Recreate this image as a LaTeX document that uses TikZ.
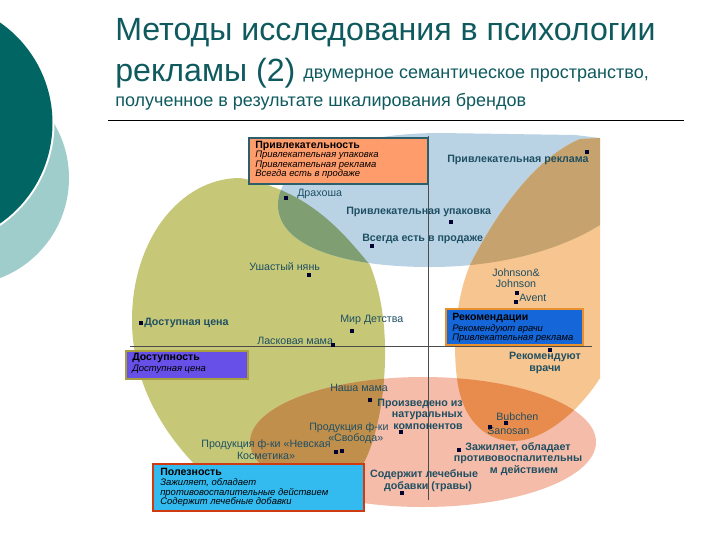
\documentclass[tikz,border=0pt]{standalone}
\usepackage{fontspec}
\setmainfont{Liberation Sans}
\definecolor{titlecol}{HTML}{0F5A5E}
\definecolor{labelcol}{HTML}{1E4F62}
\definecolor{ringdark}{HTML}{006563}
\definecolor{ringlight}{HTML}{9FCDCB}
\definecolor{areagreen}{HTML}{C6C878}
\definecolor{areablue}{HTML}{B9D3E5}
\definecolor{areaorange}{HTML}{F7C590}
\definecolor{areapink}{HTML}{F4BCA9}
\definecolor{mixgb}{HTML}{7F9E72}
\definecolor{mixbo}{HTML}{C6A36E}
\definecolor{mixgrnpnk}{HTML}{C08F4C}
\definecolor{mixorgpnk}{HTML}{E88C4E}
\definecolor{boxsalmon}{HTML}{FF9C6B}
\definecolor{boxsalmonline}{HTML}{2B5F6B}
\definecolor{boxviolet}{HTML}{6650E8}
\definecolor{boxvioletline}{HTML}{A8A040}
\definecolor{boxblue}{HTML}{1566D8}
\definecolor{boxblueline}{HTML}{E8902C}
\definecolor{boxcyan}{HTML}{33BBF0}
\definecolor{boxcyanline}{HTML}{D03A10}
\newcommand{\shapegreen}{(240,178) .. controls (180,178) and (132,240) .. (132,320) .. controls (132,380) and (160,430) .. (200,470) -- (360,470) .. controls (378,440) and (386,390) .. (385,345) .. controls (384,310) and (378,285) .. (370,265) .. controls (345,235) and (310,190) .. (240,178) -- cycle}
\newcommand{\shapeblue}{(278,205) .. controls (278,160) and (350,133) .. (440,133) -- (575,135) -- (600,138) -- (600,225) .. controls (560,250) and (500,267) .. (430,267) .. controls (340,267) and (278,245) .. (278,205) -- cycle}
\newcommand{\shapeorange}{(600,138) -- (580,139) .. controls (530,160) and (490,225) .. (470,265) .. controls (455,300) and (452,350) .. (458,385) .. controls (465,425) and (490,442) .. (515,441) .. controls (545,440) and (580,410) .. (600,378) -- cycle}
\newcommand{\shapepink}{(423,442) ellipse [x radius=173, y radius=65]}
\tikzset{
	titlebig/.style={anchor=west, inner sep=0pt, text=titlecol, font=\fontsize{24.1}{28}\selectfont},
	titlesmall/.style={anchor=west, inner sep=0pt, text=titlecol, font=\fontsize{13.5}{16}\selectfont},
	lbl/.style={text=labelcol, inner sep=0pt, font=\fontsize{8}{8.6}\selectfont, anchor=west},
	lblb/.style={lbl, font=\fontsize{8}{8.6}\selectfont\bfseries},
	dotmark/.style={fill=black!80!blue, inner sep=0pt, minimum size=3pt},
	boxhead/.style={text=black, inner sep=0pt, anchor=west, font=\fontsize{7.9}{9}\selectfont\bfseries},
	boxline/.style={text=black, inner sep=0pt, anchor=west, font=\fontsize{7.1}{8}\selectfont\itshape},
	legendbox/.style={line width=2pt}
}
\begin{document}
\begin{tikzpicture}[x=0.75pt, y=-0.75pt]
	\clip (0,0) rectangle (720,540);
	\fill[white] (0,0) rectangle (720,540);
	% circles on the left
	\fill[ringlight] (-38,178) circle (107);
	\fill[white] (-70,123) circle (124.5);
	\fill[ringdark] (-70,123) circle (122.5);
	% heading
	\node[titlebig] (titleA) at (115,33) {Методы исследования в психологии};
	\node[titlebig] (titleB) at (115,73) {рекламы (2)};
	\node[titlesmall] (titleC) at (303,76) {двумерное семантическое пространство,};
	\node[titlesmall] (titleD) at (115,102) {полученное в результате шкалирования брендов};
	\draw[black, line width=0.6pt] (108,120.5) -- (684,120.5);
	% areas
	\fill[areagreen] \shapegreen;
	\fill[areablue] \shapeblue;
	\fill[areaorange] \shapeorange;
	\fill[areapink] \shapepink;
	% overlaps
	\begin{scope}
		\clip \shapegreen;
		\fill[mixgb] \shapeblue;
	\end{scope}
	\begin{scope}
		\clip \shapeorange;
		\fill[mixbo] \shapeblue;
	\end{scope}
	\begin{scope}
		\clip \shapepink;
		\fill[mixgrnpnk] \shapegreen;
		\fill[mixorgpnk] \shapeorange;
	\end{scope}
	% axes
	\draw[black!70, line width=0.5pt] (428,136) -- (428,500);
	\draw[black!70, line width=0.5pt] (130,346) -- (592,346);
	% legend boxes
	\draw[legendbox, draw=boxsalmonline, fill=boxsalmon] (249,138) rectangle (428,184);
	\draw[legendbox, draw=boxvioletline, fill=boxviolet] (126,351) rectangle (248,379);
	\draw[legendbox, draw=boxblueline, fill=boxblue] (446,309) rectangle (583,345);
	\draw[legendbox, draw=boxcyanline, fill=boxcyan] (153,464) rectangle (364,511);
	\node[boxhead] (headA) at (255,146) {Привлекательность};
	\node[boxline] (lineAa) at (255,155) {Привлекательная упаковка};
	\node[boxline] (lineAb) at (255,165) {Привлекательная реклама};
	\node[boxline] (lineAc) at (255,174) {Всегда есть в продаже};
	\node[boxhead] (headB) at (132,358) {Доступность};
	\node[boxline] (lineBa) at (132,369) {Доступная цена};
	\node[boxhead] (headC) at (452,318) {Рекомендации};
	\node[boxline] (lineCa) at (452,329) {Рекомендуют врачи};
	\node[boxline] (lineCb) at (452,338) {Привлекательная реклама};
	\node[boxhead] (headD) at (160,472) {Полезность};
	\node[boxline] (lineDa) at (160,483) {Зажиляет, обладает};
	\node[boxline] (lineDb) at (160,493) {противовоспалительные действием};
	\node[boxline] (lineDc) at (160,502) {Содержит лечебные добавки};
	% brands and properties
	\node[lblb] (propReklama) at (447,160) {Привлекательная реклама};
	\node[lbl] (brandDrakosha) at (297,194) {Драхоша};
	\node[lblb] (propUpakovka) at (346,212) {Привлекательная упаковка};
	\node[lblb] (propVsegda) at (362,239) {Всегда есть в продаже};
	\node[lbl] (brandUshasty) at (249,267) {Ушастый нянь};
	\node[lbl, align=center, anchor=center] (brandJohnson) at (516,278) {Johnson\&\\Johnson};
	\node[lbl] (brandAvent) at (519,298) {Avent};
	\node[lblb] (propCena) at (144,323) {Доступная цена};
	\node[lbl] (brandMir) at (340,320) {Мир Детства};
	\node[lbl] (brandLaskovaya) at (257,341) {Ласковая мама};
	\node[lblb, align=center, anchor=center] (propVrachi) at (545,363) {Рекомендуют\\врачи};
	\node[lbl] (brandNasha) at (330,388) {Наша мама};
	\node[lblb, align=right, anchor=east] (propNatural) at (463,414) {Произведено из\\натуральных\\компонентов};
	\node[lbl] (brandSvobodaA) at (309,428) {Продукция ф-ки};
	\node[lbl] (brandSvobodaB) at (328,439) {«Свобода»};
	\node[lbl, align=center, anchor=center] (brandNevskaya) at (266,449.5) {Продукция ф-ки «Невская\\Косметика»};
	\node[lbl] (brandBubchen) at (496,417) {Bubchen};
	\node[lbl] (brandSanosan) at (487,431) {Sanosan};
	\node[lblb, align=center, anchor=center] (propZazhivlyaet) at (518,459) {Зажиляет, обладает\\противовоспалительны\\\hspace*{9pt}м действием};
	\node[lblb, align=center, anchor=center] (propLechebnye) at (424,480.5) {Содержит лечебные\\\hspace*{6pt}добавки (травы)};
	% points
	\node[dotmark] (ptReklama) at (587,152) {};
	\node[dotmark] (ptDrakosha) at (286,198) {};
	\node[dotmark] (ptUpakovka) at (451,222) {};
	\node[dotmark] (ptVsegda) at (372,246) {};
	\node[dotmark] (ptUshasty) at (309,275) {};
	\node[dotmark] (ptJohnson) at (516.5,293) {};
	\node[dotmark] (ptAvent) at (516,302) {};
	\node[dotmark] (ptCena) at (141,323) {};
	\node[dotmark] (ptMir) at (352,331) {};
	\node[dotmark] (ptLaskovaya) at (333,345) {};
	\node[dotmark] (ptVrachi) at (550,350) {};
	\node[dotmark] (ptNasha) at (370,400) {};
	\node[dotmark] (ptNatural) at (401,432) {};
	\node[dotmark] (ptSvoboda) at (342,451) {};
	\node[dotmark] (ptNevskaya) at (336,452) {};
	\node[dotmark] (ptBubchen) at (506,423) {};
	\node[dotmark] (ptSanosan) at (490,427) {};
	\node[dotmark] (ptZazhivlyaet) at (459,450) {};
	\node[dotmark] (ptLechebnye) at (402,493) {};
\end{tikzpicture}
\end{document}
